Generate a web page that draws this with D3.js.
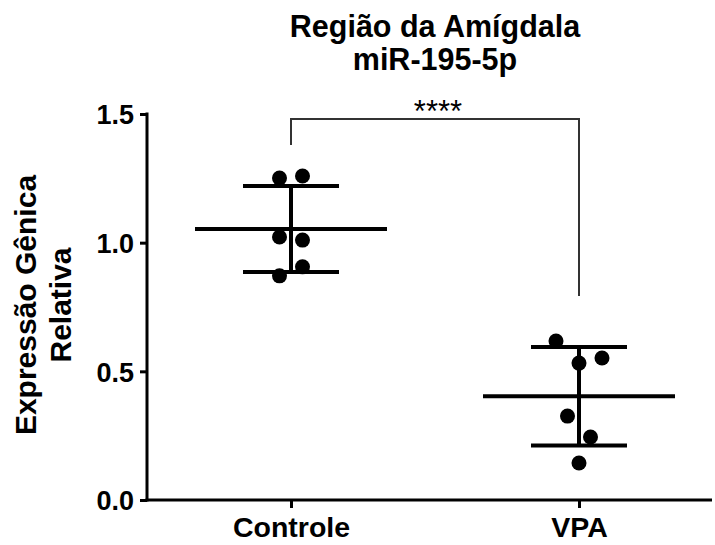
<!DOCTYPE html>
<html>
<head>
<meta charset="utf-8">
<script src="https://cdn.jsdelivr.net/npm/d3@7"></script>
<style>
  html, body { margin: 0; padding: 0; background: #fff; }
  svg { display: block; }
  text { font-family: "Liberation Sans", Arial, Helvetica, sans-serif; font-weight: bold; fill: #000; }
</style>
</head>
<body>
<svg id="chart" width="715" height="545"></svg>
<script>
// ---- data ----
const titleLines = ["Região da Amígdala", "miR-195-5p"];
const yTitleLines = ["Expressão Gênica", "Relativa"];
const categories = ["Controle", "VPA"];
const controleValues = [1.251, 1.259, 1.022, 1.010, 0.871, 0.906];
const controleLanes  = [-1, 1, -1, 1, -1, 1];
const vpaValues = [0.618, 0.532, 0.552, 0.326, 0.245, 0.144];
const vpaLanes  = [-2, 0, 2, -1, 1, 0];
const yTicks = [0.0, 0.5, 1.0, 1.5];
const significance = "****";

// ---- layout ----
const svg = d3.select("#chart");
const yAxisX = 147, xAxisEnd = 712;
const y = d3.scaleLinear().domain([0, 1.5]).range([500, 114]);
const x = d3.scalePoint().domain(categories).range([147, 723]).padding(0.5);
const lane = d3.scaleLinear().domain([-1, 1]).range([-11.5, 11.5]);

const groups = [
  { name: "Controle", values: controleValues, lanes: controleLanes },
  { name: "VPA", values: vpaValues, lanes: vpaLanes }
];
groups.forEach(g => {
  g.mean = d3.mean(g.values);
  g.sd = d3.deviation(g.values);
});

// Title
svg.append("g").selectAll("text").data(titleLines).join("text")
  .attr("x", 435).attr("y", (d, i) => 37 + i * 33)
  .attr("text-anchor", "middle").style("font-size", "30.5px")
  .text(d => d);

// Y axis
const yAxis = d3.axisLeft(y).tickValues(yTicks).tickFormat(d3.format(".1f"))
  .tickSize(7).tickPadding(6).tickSizeOuter(0);
const yg = svg.append("g").attr("transform", `translate(${yAxisX},0)`).call(yAxis);
yg.select(".domain").attr("stroke", "#000").attr("stroke-width", 3)
  .attr("d", `M0,${y(1.5) - 1.5}V${y(0) + 1.5}`);
yg.selectAll(".tick line").attr("stroke", "#000").attr("stroke-width", 3);
yg.selectAll(".tick text").style("font-size", "27px").style("font-family", "'Liberation Sans', Arial, sans-serif")
  .style("font-weight", "bold").attr("dy", "0.36em");

// X axis
const xAxis = d3.axisBottom(x).tickSize(8).tickPadding(8).tickSizeOuter(0);
const xg = svg.append("g").attr("transform", `translate(0,${y(0)})`).call(xAxis);
xg.select(".domain").attr("stroke", "#000").attr("stroke-width", 3)
  .attr("d", `M${yAxisX - 1.5},0H${xAxisEnd}`);
xg.selectAll(".tick line").attr("stroke", "#000").attr("stroke-width", 3);
xg.selectAll(".tick text").style("font-size", "28.5px").style("font-family", "'Liberation Sans', Arial, sans-serif")
  .style("font-weight", "bold").attr("y", 37).attr("dy", 0);

// Y title
svg.append("g").attr("transform", "translate(0,305) rotate(-90)")
  .selectAll("text").data(yTitleLines).join("text")
  .attr("x", 0).attr("y", (d, i) => 36 + i * 35)
  .attr("text-anchor", "middle").style("font-size", "30px")
  .text(d => d);

// Error bars, means
const meanHalf = 96, capHalf = 48;
const eg = svg.append("g").attr("stroke", "#000").attr("stroke-width", 4).attr("fill", "none");
groups.forEach(g => {
  const cx = x(g.name);
  eg.append("line").attr("x1", cx).attr("x2", cx).attr("y1", y(g.mean + g.sd)).attr("y2", y(g.mean - g.sd));
  eg.append("line").attr("x1", cx - capHalf).attr("x2", cx + capHalf).attr("y1", y(g.mean + g.sd)).attr("y2", y(g.mean + g.sd));
  eg.append("line").attr("x1", cx - capHalf).attr("x2", cx + capHalf).attr("y1", y(g.mean - g.sd)).attr("y2", y(g.mean - g.sd));
  eg.append("line").attr("x1", cx - meanHalf).attr("x2", cx + meanHalf).attr("y1", y(g.mean)).attr("y2", y(g.mean));
});

// Points
const pg = svg.append("g");
groups.forEach(g => {
  pg.selectAll(null).data(g.values.map((v, i) => ({ v, l: g.lanes[i] }))).join("circle")
    .attr("cx", d => x(g.name) + lane(d.l)).attr("cy", d => y(d.v)).attr("r", 7.5).attr("fill", "#000");
});

// Significance bracket
const by = 119;
const leftEnd = y(controleValues[0]) - 33, rightEnd = y(vpaValues[0]) - 45;
svg.append("path").attr("fill", "none").attr("stroke", "#333").attr("stroke-width", 2)
  .attr("d", `M${x("Controle")},${leftEnd}V${by}H${x("VPA")}V${rightEnd}`);
svg.append("text").attr("x", (x("Controle") + x("VPA")) / 2 + 3).attr("y", 122)
  .attr("text-anchor", "middle").style("font-size", "31px").style("font-weight", "normal")
  .text(significance);
</script>
</body>
</html>
